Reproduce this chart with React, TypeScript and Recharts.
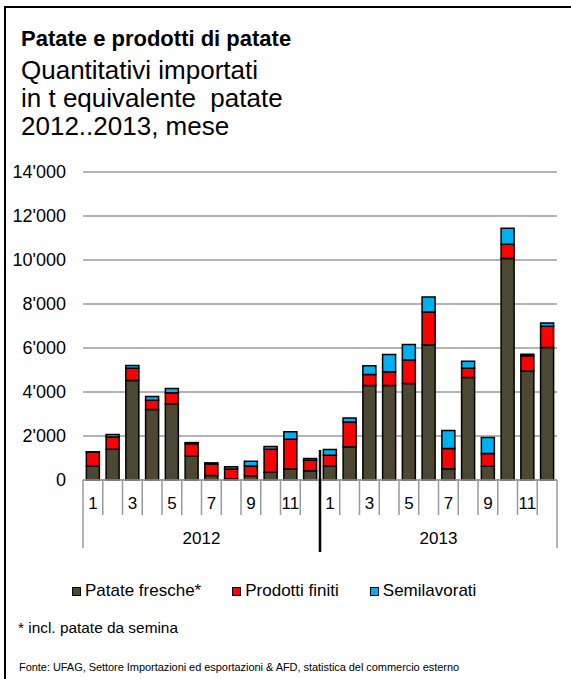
import React from "react";
import { BarChart, Bar, XAxis, YAxis, CartesianGrid } from "recharts";

const years = ["2012", "2013"];
const months = [1, 2, 3, 4, 5, 6, 7, 8, 9, 10, 11, 12];

// t equivalente patate, per mese
const fresche2012 = [640, 1400, 4520, 3200, 3470, 1090, 200, 50, 190, 350, 500, 420];
const finiti2012 = [620, 550, 560, 430, 500, 560, 520, 450, 450, 1050, 1350, 480];
const semi2012 = [20, 120, 130, 170, 190, 50, 60, 100, 210, 120, 340, 80];

const fresche2013 = [650, 1510, 4290, 4300, 4390, 6150, 510, 4660, 620, 10070, 4950, 6020];
const finiti2013 = [480, 1130, 510, 620, 1060, 1490, 920, 420, 590, 650, 700, 970];
const semi2013 = [260, 180, 390, 780, 710, 680, 820, 320, 720, 720, 70, 150];

const yTicks = [0, 2000, 4000, 6000, 8000, 10000, 12000, 14000];

const SERIES = [
  { key: "fresche", name: "Patate fresche*", color: "#4d4833" },
  { key: "finiti", name: "Prodotti finiti", color: "#ff0000" },
  { key: "semi", name: "Semilavorati", color: "#00b0f0" },
];

const data = [
  ...months.map((m, i) => ({ m, year: years[0], fresche: fresche2012[i], finiti: finiti2012[i], semi: semi2012[i] })),
  ...months.map((m, i) => ({ m, year: years[1], fresche: fresche2013[i], finiti: finiti2013[i], semi: semi2013[i] })),
];

const FONT = "'Liberation Sans', Arial, sans-serif";
const W = 571;
const H = 679;
const Y_W = 83;
const M_RIGHT = 14;
const BAND = (W - Y_W - M_RIGHT) / data.length;
const SEP = "#9a9a9a";

const fmt = (v: number) => String(v).replace(/\B(?=(\d{3})+(?!\d))/g, "'");

function MonthTick(props: any) {
  const { x, y, index, payload } = props;
  const left = x - BAND / 2;
  const row = data[index];
  const yearStart = index % 12 === 0;
  return (
    <g>
      <line x1={left} x2={left} y1={y} y2={y + (yearStart ? 68 : 35)} stroke={SEP} strokeWidth={1.5} />
      {index === data.length - 1 && (
        <line x1={x + BAND / 2} x2={x + BAND / 2} y1={y} y2={y + 68} stroke={SEP} strokeWidth={1.5} />
      )}
      {row.m % 2 === 1 && (
        <text x={x} y={y + 23} textAnchor="middle" dominantBaseline="central" fontSize={17} fontFamily={FONT} fill="#000">
          {payload.value}
        </text>
      )}
      {yearStart && (
        <text x={left + 6 * BAND} y={y + 58} textAnchor="middle" dominantBaseline="central" fontSize={17} fontFamily={FONT} fill="#000">
          {row.year}
        </text>
      )}
      {yearStart && index > 0 && (
        <line x1={left} x2={left} y1={y - 30} y2={y + 72} stroke="#000" strokeWidth={2.5} />
      )}
    </g>
  );
}

export default function App() {
  return (
    <div style={{ position: "absolute", left: 0, top: 0, width: W, height: H, background: "#fff", fontFamily: FONT, overflow: "hidden" }}>
      <div style={{ position: "absolute", left: 4, top: 6, width: W, height: H, borderLeft: "2px solid #000", borderTop: "2px solid #000" }} />
      <div style={{ position: "absolute", left: 21, top: 26, color: "#000" }}>
        <div style={{ fontSize: 22, fontWeight: "bold", lineHeight: "25px" }}>Patate e prodotti di patate</div>
        <div style={{ fontSize: 26, lineHeight: "28px", marginTop: 5 }}>
          <div>Quantitativi importati</div>
          <div style={{ whiteSpace: "pre" }}>in t equivalente  patate</div>
          <div>2012..2013, mese</div>
        </div>
      </div>
      <div style={{ position: "absolute", left: 0, top: 0 }}>
        <BarChart width={W} height={H} data={data} margin={{ top: 172, right: M_RIGHT, left: 0, bottom: H - 480 - 70 }} barCategoryGap="17%">
          <CartesianGrid horizontal vertical={false} stroke={SEP} strokeWidth={1.5} />
          <XAxis dataKey="m" interval={0} height={70} tickLine={false} tickSize={0} tickMargin={0} axisLine={{ stroke: SEP, strokeWidth: 1.5 }} tick={<MonthTick />} />
          <YAxis width={Y_W} domain={[0, 14000]} ticks={yTicks} tickFormatter={fmt} axisLine={false} tickLine={false} tickSize={0} tickMargin={17} tick={{ fill: "#000", fontSize: 18, fontFamily: FONT }} />
          {SERIES.map((s) => (
            <Bar key={s.key} dataKey={s.key} name={s.name} stackId="a" fill={s.color} stroke="#000" strokeWidth={1.5} isAnimationActive={false} />
          ))}
        </BarChart>
      </div>
      <div style={{ position: "absolute", left: 72, top: 581, display: "flex", gap: 31, fontSize: 17, color: "#000" }}>
        {SERIES.map((s) => (
          <div key={s.key} style={{ display: "flex", alignItems: "center" }}>
            <span style={{ display: "inline-block", width: 7, height: 7, background: s.color, border: "1px solid #000", marginRight: 4 }} />
            {s.name}
          </div>
        ))}
      </div>
      <div style={{ position: "absolute", left: 18, top: 619, fontSize: 15.4, color: "#000" }}>* incl. patate da semina</div>
      <div style={{ position: "absolute", left: 19, top: 661, fontSize: 11, color: "#000", letterSpacing: -0.05 }}>
        Fonte: UFAG, Settore Importazioni ed esportazioni &amp; AFD, statistica del commercio esterno
      </div>
    </div>
  );
}
